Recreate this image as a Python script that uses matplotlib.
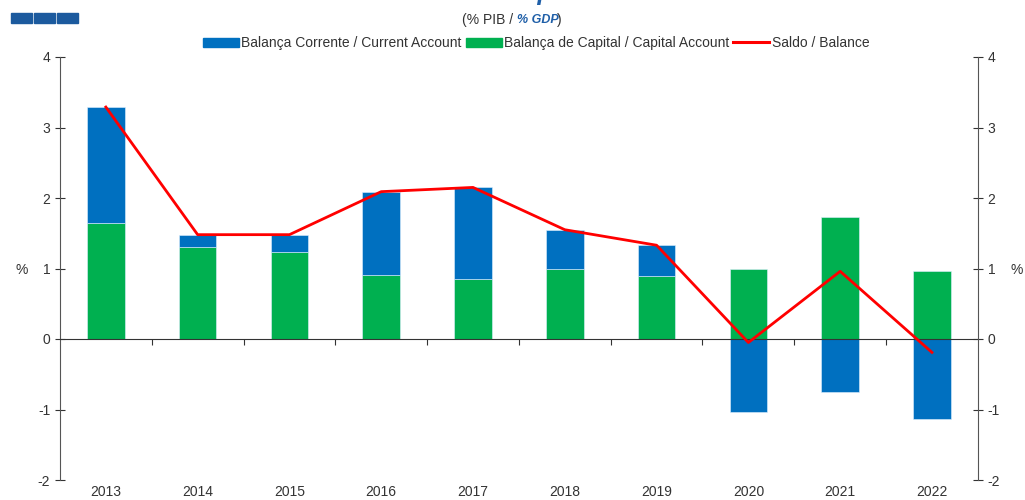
import matplotlib

matplotlib.use("Agg")
import matplotlib.pyplot as plt
from matplotlib.lines import Line2D
from matplotlib.patches import Patch, Rectangle

YEARS = ["2013", "2014", "2015", "2016", "2017", "2018", "2019", "2020", "2021", "2022"]
CURRENT = [1.64, 0.18, 0.25, 1.18, 1.31, 0.56, 0.44, -1.04, -0.75, -1.14]
CAPITAL = [1.65, 1.30, 1.23, 0.91, 0.85, 0.99, 0.89, 0.99, 1.73, 0.96]
BALANCE = [3.29, 1.48, 1.48, 2.09, 2.15, 1.55, 1.33, -0.05, 0.96, -0.19]

BLUE = "#0070C0"
GREEN = "#00B050"
RED = "#FF0000"

plt.rcParams.update({"font.family": ["Liberation Sans", "DejaVu Sans"], "font.size": 10,
                     "axes.unicode_minus": False})

fig = plt.figure(figsize=(10.25, 5), dpi=100)
ax = fig.add_axes([0.0585, 0.04, 0.8955, 0.846])

x = list(range(len(YEARS)))
# capital account sits on zero, current account stacked on top (or below when negative)
ax.bar(x, CAPITAL, width=0.41, color=GREEN, edgecolor="#dff0ff", linewidth=0.4, zorder=2)
cur_bottom = [c if v >= 0 else 0 for c, v in zip(CAPITAL, CURRENT)]
ax.bar(x, CURRENT, width=0.41, bottom=cur_bottom, color=BLUE, edgecolor="#dff0ff",
       linewidth=0.4, zorder=2)
ax.plot(x, BALANCE, color=RED, lw=2.0, zorder=3)

ax.set_xlim(-0.5, len(YEARS) - 0.5)
ax.set_ylim(-2, 4)
ax.set_yticks(range(-2, 5))
ax.tick_params(axis="y", direction="inout", length=7, width=0.8, labelsize=10, colors="#333333")
ax.spines["left"].set_color("#555555")
ax.spines["right"].set_visible(False)
ax.spines["top"].set_visible(False)
ax.spines["bottom"].set_position(("data", 0))
ax.spines["bottom"].set_color("#333333")
ax.set_xticks([i + 0.5 for i in range(len(YEARS) - 1)])
ax.set_xticklabels([])
ax.tick_params(axis="x", direction="out", length=4, width=0.8, colors="#333333")
for i, yr in enumerate(YEARS):
    ax.text(i, -0.029, yr, transform=ax.get_xaxis_transform(), ha="center", va="center",
            fontsize=10, color="#333333")

ax2 = ax.twinx()
ax2.set_ylim(-2, 4)
ax2.set_yticks(range(-2, 5))
ax2.tick_params(axis="y", direction="inout", length=7, width=0.8, labelsize=10, colors="#333333")
for s in ("left", "top", "bottom"):
    ax2.spines[s].set_visible(False)
ax2.spines["right"].set_color("#555555")

fig.text(0.021, 0.46, "%", ha="center", va="center", fontsize=10, color="#333333")
fig.text(0.992, 0.46, "%", ha="center", va="center", fontsize=10, color="#333333")

# title (clipped at the top edge like the source) and subtitle
fig.text(0.52, 0.99, "Current and Capital Accounts", ha="center", va="bottom", fontsize=18,
         color="#1F5FA8", style="italic", weight="bold")
fig.text(0.5 + 0.004, 0.96, "(% PIB / ", ha="right", va="center", fontsize=10, color="#333333")
fig.text(0.5 + 0.004, 0.96, "% GDP", ha="left", va="center", fontsize=9, color="#1F5FA8",
         style="italic", weight="bold")
fig.text(0.5 + 0.043, 0.96, ")", ha="left", va="center", fontsize=10, color="#333333")

# small logo blocks, top-left
for k in range(3):
    fig.add_artist(Rectangle((0.011 + k * 0.0225, 0.955), 0.02, 0.019, transform=fig.transFigure,
                             color="#1C5A9E"))

handles = [
    Patch(color=BLUE, label="Balança Corrente / Current Account"),
    Patch(color=GREEN, label="Balança de Capital / Capital Account"),
    Line2D([], [], color=RED, lw=2.2, label="Saldo / Balance"),
]
fig.legend(handles=handles, loc="center", bbox_to_anchor=(0.523, 0.914), ncol=3, frameon=False,
           fontsize=10, handlelength=2.6, handleheight=0.6, handletextpad=0.15, columnspacing=0.3,
           labelcolor="#333333")

fig.savefig("out.png", dpi=100)
